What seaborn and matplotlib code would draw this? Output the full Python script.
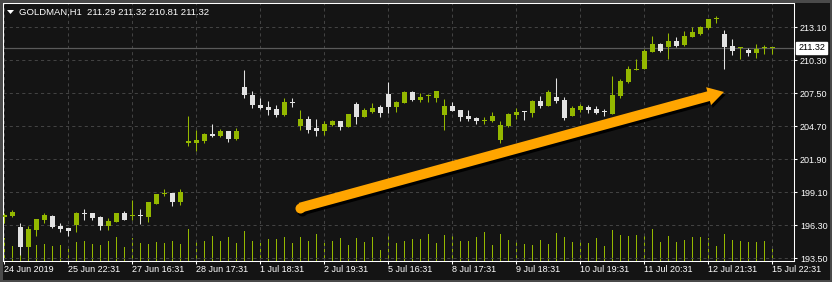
import matplotlib
matplotlib.use("Agg")
import matplotlib.pyplot as plt
import matplotlib.transforms as mtransforms
from matplotlib.patches import FancyArrowPatch, Polygon, Rectangle
import numpy as np
import pandas as pd
import seaborn as sns

# ---------------- data ----------------
symbol = "GOLDMAN,H1"

opens = [196.98, 197.09, 196.16, 194.47, 195.88, 196.73, 197.07, 196.25, 196.08, 196.33,
         197.28, 197.32, 197.01, 196.25, 196.56, 197.32, 197.07, 197.15, 197.01, 198.09,
         198.91, 199.02, 198.26, 203.30, 203.26, 203.43, 204.02, 203.85, 204.28, 203.60,
         208.01, 207.33, 206.48, 206.31, 206.14, 205.64, 206.74, 204.70, 205.30, 204.53,
         204.28, 204.79, 205.13, 204.62, 206.57, 205.47, 205.89, 206.31, 207.42, 206.31,
         206.65, 207.59, 206.91, 207.21, 207.08, 205.64, 206.40, 206.06, 205.55, 205.38,
         205.13, 205.13, 203.52, 204.70, 205.64, 205.93, 205.81, 206.82, 206.40, 207.16,
         206.91, 205.55, 206.06, 206.31, 206.14, 205.93, 205.72, 207.25, 208.43, 209.49,
         209.54, 210.98, 211.66, 211.40, 211.91, 211.57, 212.25, 212.51, 213.02, 213.74,
         212.51, 211.49, 211.28, 211.15, 210.89, 211.28, 211.29]

highs = [197.30, 197.58, 196.45, 196.22, 196.81, 197.32, 197.15, 196.48, 196.08, 197.41,
         197.66, 197.32, 197.09, 196.92, 197.32, 197.49, 198.43, 197.66, 198.26, 198.94,
         199.36, 199.02, 199.36, 205.55, 204.36, 204.11, 204.87, 204.45, 204.28, 204.53,
         209.45, 207.67, 207.08, 206.82, 206.48, 207.08, 207.08, 206.06, 205.55, 205.30,
         205.13, 205.21, 205.13, 205.72, 206.74, 206.23, 206.65, 206.48, 208.43, 206.82,
         207.67, 207.67, 207.50, 207.42, 207.67, 206.99, 206.74, 206.06, 206.06, 205.47,
         205.47, 205.89, 205.13, 205.81, 206.23, 205.97, 206.91, 207.25, 207.76, 208.77,
         207.16, 206.40, 206.57, 206.48, 206.40, 206.14, 208.94, 208.69, 209.79, 210.39,
         211.23, 212.34, 211.74, 212.59, 212.25, 212.76, 213.10, 213.18, 213.78, 214.03,
         212.85, 212.08, 211.40, 211.32, 211.66, 211.57, 211.32]

lows = [196.50, 197.01, 193.76, 194.40, 195.40, 196.48, 196.05, 195.74, 195.40, 195.74,
        196.73, 196.73, 195.91, 195.88, 196.56, 196.73, 196.73, 196.39, 196.56, 198.09,
        198.77, 197.92, 198.00, 203.01, 202.61, 203.26, 203.77, 203.77, 203.35, 203.52,
        207.10, 206.23, 206.17, 205.64, 205.47, 205.55, 206.31, 204.36, 204.11, 203.85,
        203.94, 204.70, 204.36, 204.62, 204.87, 205.47, 205.81, 205.47, 205.81, 205.89,
        206.65, 206.82, 206.74, 206.74, 206.74, 204.36, 205.97, 205.13, 205.13, 204.87,
        204.87, 205.04, 203.26, 204.62, 205.30, 205.21, 205.47, 206.23, 206.40, 206.65,
        205.21, 205.55, 205.89, 205.81, 205.72, 205.55, 205.72, 207.08, 208.35, 209.45,
        209.54, 210.98, 210.98, 210.39, 211.40, 211.49, 212.25, 212.42, 212.93, 213.44,
        209.54, 210.72, 210.39, 210.64, 210.47, 210.81, 210.81]

closes = [197.18, 197.41, 194.47, 195.94, 196.81, 197.15, 196.16, 195.97, 195.80, 197.32,
          197.20, 196.92, 196.25, 196.65, 197.32, 196.73, 197.13, 197.04, 198.26, 198.94,
          198.99, 198.26, 199.10, 203.39, 203.52, 204.02, 203.85, 204.28, 203.60, 204.28,
          207.33, 206.48, 206.23, 206.06, 205.64, 206.74, 206.65, 205.30, 204.36, 204.28,
          204.87, 205.13, 204.62, 205.72, 205.47, 206.06, 206.23, 205.81, 206.31, 206.74,
          207.59, 206.91, 207.16, 207.29, 207.67, 206.40, 205.97, 205.47, 205.30, 205.13,
          205.21, 205.55, 204.79, 205.72, 205.89, 205.85, 206.82, 206.40, 207.59, 206.82,
          205.38, 206.23, 206.40, 206.06, 205.81, 205.85, 207.33, 208.52, 209.54, 209.58,
          211.06, 211.66, 211.06, 211.91, 211.49, 212.34, 212.68, 213.10, 213.78, 213.82,
          211.40, 211.06, 211.36, 210.89, 211.23, 211.32, 211.32]

volumes = [2300, 1500, 2600, 2300, 1600, 1700, 1500, 1600, 1400, 1900,
           2000, 1700, 1600, 2000, 2400, 1400, 2300, 1800, 1700, 1900,
           1800, 2000, 1700, 3200, 2100, 2000, 2500, 2000, 2400, 1800,
           3000, 2000, 1800, 2200, 2200, 2400, 1800, 2400, 2000, 2700,
           1800, 2000, 2300, 1600, 2300, 1900, 2400, 1100, 2600, 1800,
           2000, 2200, 2200, 2700, 1800, 2600, 2500, 2000, 2000, 2400,
           2900, 1600, 2700, 2100, 2100, 1700, 1600, 2100, 1700, 2800,
           2400, 1900, 2100, 1800, 2300, 1500, 3100, 2600, 2500, 2600,
           2500, 3200, 1900, 2500, 1900, 2100, 2400, 2400, 2300, 1500,
           2700, 2100, 2000, 1900, 1900, 2000, 1400]

date_labels = ["24 Jun 2019", "25 Jun 22:31", "27 Jun 16:31", "28 Jun 17:31",
               "1 Jul 18:31", "2 Jul 19:31", "5 Jul 16:31", "8 Jul 17:31",
               "9 Jul 18:31", "10 Jul 19:31", "11 Jul 20:31", "12 Jul 21:31",
               "15 Jul 22:31"]
label_step = 8
price_ticks = [193.50, 196.30, 199.10, 201.90, 204.70, 207.50, 210.30, 213.10]
last_price = 211.32
arrow_start = (36.96, 197.77)
arrow_end = (89.96, 207.59)

# ---------------- style ----------------
sns.set_theme(style="dark")
plt.rcParams["font.family"] = ["Liberation Sans", "DejaVu Sans"]

BG = "#141414"
BULL = "#94b800"
BEAR = "#e2e2e2"
FG = "#ffffff"
GRID = "#424242"
ARROW = "#ffa500"

n = len(opens)
idx = np.arange(n)
df = pd.DataFrame({"idx": idx, "open": opens, "high": highs, "low": lows,
                   "close": closes, "volume": volumes})

fig = plt.figure(figsize=(8.32, 2.82), dpi=100, facecolor=BG)
ax = fig.add_axes([3 / 832, 21 / 282, 791 / 832, 258 / 282])
vax = ax.twinx()
vax.set_zorder(0)
ax.set_zorder(1)
ax.patch.set_visible(False)
vax.patch.set_visible(True)
vax.set_facecolor(BG)

# volume histogram (behind candles)
sns.barplot(data=df, x="idx", y="volume", ax=vax, native_scale=True, width=0.13,
            color=BULL, saturation=1, errorbar=None, linewidth=0)
vax.set_ylim(0, 25800)
vax.set_yticks([])
vax.set_ylabel("")
vax.set_xlabel("")
for s in vax.spines.values():
    s.set_visible(False)

# candles
bull = (df["close"] >= df["open"]).to_numpy()
colors = np.where(bull, BULL, BEAR)
ax.vlines(idx, df["low"], df["high"], colors=colors, linewidth=0.75, zorder=3)
body_low = np.minimum(df["open"], df["close"])
body_h = np.maximum(np.abs(df["close"] - df["open"]), 0.085)
ax.bar(idx, body_h, bottom=body_low, width=0.625, color=colors, linewidth=0, zorder=4)

# last price line
ax.axhline(last_price, color="#5a5a5a", lw=0.9, zorder=2)

# grid
ax.set_axisbelow(True)
ax.grid(True, color=GRID, linestyle=(0, (3, 3)), linewidth=0.75)

# axes, ticks
ax.yaxis.tick_right()
ax.set_yticks(price_ticks)
ax.set_yticklabels([f"{p:.2f}" for p in price_ticks])
ax.set_xticks(idx[::label_step])
ax.set_xticklabels(date_labels, ha="left")
ax.tick_params(axis="both", colors=FG, labelcolor=FG, labelsize=6.5,
               length=2.2, width=0.75, direction="out")
ax.tick_params(axis="x", pad=1, bottom=True, top=False)
ax.tick_params(axis="y", pad=2, right=True, left=False)
ax.set_xlabel("")
ax.set_ylabel("")
ax.set_xlim(-0.1625, 98.7125)
ax.set_ylim(193.252, 215.136)
for s in ax.spines.values():
    s.set_visible(True)
    s.set_color(FG)
    s.set_linewidth(0.75)

# last price tag
ax.annotate(f"{last_price:.2f}", xy=(1, last_price), xycoords=("axes fraction", "data"),
            xytext=(3.2, 0), textcoords="offset points", ha="left", va="center",
            fontsize=6.5, color="black",
            bbox=dict(boxstyle="square,pad=0.22", fc="white", ec="white"),
            annotation_clip=False, zorder=10)

# trend arrow with shadow
shadow_tr = mtransforms.offset_copy(ax.transData, fig=fig, x=1.2, y=-2.0, units="points")
style = "simple,head_length=1.15,head_width=1.34,tail_width=0.72"
for tr, col, z in [(shadow_tr, "black", 6), (ax.transData, ARROW, 7)]:
    arr = FancyArrowPatch(arrow_start, arrow_end, arrowstyle=style, mutation_scale=10,
                          color=col, lw=0, shrinkA=0, shrinkB=0, transform=tr, zorder=z)
    ax.add_patch(arr)
    ax.plot([arrow_start[0]], [arrow_start[1]], "o", ms=7.2, color=col, mec="none",
            transform=tr, zorder=z)
ax.set_xlim(-0.1625, 98.7125)
ax.set_ylim(193.252, 215.136)

# header
fig.text(19 / 832, 1 - 12 / 282,
         f"{symbol}  {opens[-1]:.2f} {highs[-1]:.2f} {lows[-1]:.2f} {closes[-1]:.2f}",
         color=FG, fontsize=6.8, ha="left", va="center")
fig.patches.append(Polygon([[7 / 832, 1 - 10 / 282], [14 / 832, 1 - 10 / 282],
                            [10.5 / 832, 1 - 14 / 282]], closed=True,
                           transform=fig.transFigure, fc=FG, ec="none"))
fig.patches.append(Rectangle((0, 0), 1, 1, transform=fig.transFigure, fill=False,
                             ec="#4a4a4a", lw=3.6))

fig.savefig("out.png", dpi=100, facecolor=BG)
